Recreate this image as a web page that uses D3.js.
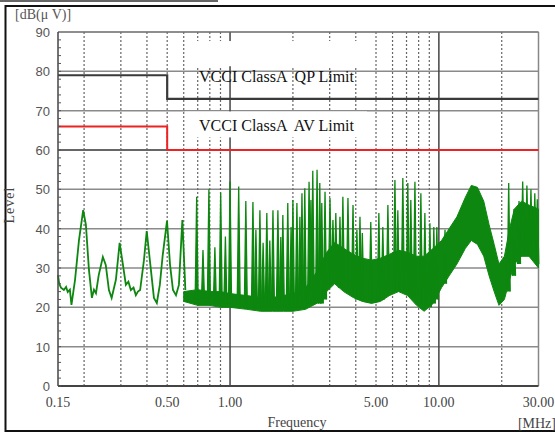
<!DOCTYPE html>
<html>
<head>
<meta charset="utf-8">
<script src="https://cdn.jsdelivr.net/npm/d3@7"></script>
<style>
  body { margin: 0; background: #fff; }
  svg text { white-space: pre; }
</style>
</head>
<body>
<div id="chart"></div>
<script>
// axis ticks
var yTicks = [0, 10, 20, 30, 40, 50, 60, 70, 80, 90];
var xLabels = [0.15, 0.5, 1, 5, 10, 30];
var dashedFreq = [0.2, 0.3, 0.4, 0.5, 0.6, 0.7, 0.8, 0.9, 2, 3, 4, 5, 6, 7, 8, 9, 20];
var solidFreq = [1, 10];

// limit lines (step after)
var limitFreq = [0.15, 0.5, 30];
var qpLimit = [79, 73, 73];
var avLimit = [66, 60, 60];

// measured trace, low band (0.15 - 0.6 MHz)
var lowFreq = [0.150, 0.152, 0.155, 0.160, 0.164, 0.167, 0.171, 0.174, 0.181, 0.189, 0.198, 0.204, 0.211, 0.218, 0.223, 0.228, 0.235, 0.246, 0.254, 0.263, 0.271, 0.284, 0.296, 0.307, 0.317, 0.326, 0.335, 0.345, 0.354, 0.362, 0.371, 0.387, 0.399, 0.413, 0.432, 0.446, 0.461, 0.476, 0.499, 0.516, 0.533, 0.551, 0.569, 0.591, 0.611];
var lowLevel = [28.2, 26.0, 25.0, 24.4, 25.2, 23.9, 24.5, 20.6, 27.0, 37.0, 44.7, 41.0, 29.5, 22.4, 24.5, 23.6, 28.2, 32.8, 30.8, 24.4, 22.4, 27.0, 36.4, 30.8, 25.7, 26.5, 24.4, 25.0, 23.1, 24.0, 24.4, 32.0, 39.4, 32.0, 22.4, 21.1, 25.7, 33.3, 42.0, 30.8, 24.4, 23.1, 25.7, 42.2, 24.4];

// dense noise band (upper / lower envelope)
var bandFreq = [0.6, 0.7, 0.8, 0.9, 1.0, 1.2, 1.4, 1.6, 1.8, 2.0, 2.3, 2.6, 2.9, 3.17, 3.5, 3.89, 4.3, 4.76, 5.25, 5.8, 6.41, 7.08, 7.82, 8.5, 9.4, 10.3, 11.2, 12.2, 13.4, 14.3, 15.3, 16.4, 17.4, 18.4, 19.4, 20.6, 21.8, 23.0, 24.9, 27.0, 30];
var bandTop = [24, 24.5, 24, 24, 23.5, 23, 22.5, 22.5, 23, 23.5, 25, 29, 34, 36.5, 35, 33.5, 32.5, 32, 32.5, 33.5, 34.5, 34, 33, 33, 35, 37, 40, 43, 48, 51, 50.5, 47, 41, 36, 31, 33, 40, 45, 47, 46, 45];
var bandLow = [21.5, 20.5, 20.5, 20, 20, 19.5, 19, 19, 19, 19, 19.5, 21, 24, 26, 24, 22.5, 21.5, 21, 21.5, 23, 24, 23, 20.5, 19, 21, 25, 28, 31, 35, 37, 36, 33, 28, 24, 20.5, 22, 27, 31, 33, 33, 30];

// narrow spikes: frequency, peak level, base level
var spikeFreq = [0.692, 0.742, 0.792, 0.846, 0.902, 0.950, 1.000, 1.100, 1.190, 1.287, 1.330, 1.390, 1.440, 1.500, 1.550, 1.605, 1.695, 1.750, 1.790, 1.890, 1.960, 2.000, 2.090, 2.160, 2.210, 2.280, 2.390, 2.440, 2.490, 2.610, 2.690, 2.750, 2.850, 3.010, 3.110, 3.210, 3.360, 3.470, 3.670, 3.880, 4.050, 4.190, 4.300, 4.720, 5.160, 5.390, 5.700, 6.160, 6.360, 6.720, 7.100, 7.340, 7.680, 8.200, 8.570, 9.060, 9.460, 9.780, 10.70, 21.60, 22.90, 24.20, 25.20, 26.40, 27.60, 28.80, 29.60];
var spikeTop = [48.1, 34.6, 50.0, 35.3, 49.2, 38.0, 52.0, 50.7, 47.0, 46.8, 39.7, 44.7, 36.4, 44.0, 37.0, 44.7, 44.7, 37.9, 43.5, 46.5, 40.4, 47.3, 46.5, 43.0, 49.0, 50.3, 51.9, 47.3, 54.7, 55.0, 51.6, 46.5, 49.4, 47.8, 42.2, 44.0, 43.0, 48.1, 47.8, 46.0, 39.7, 43.0, 38.9, 41.7, 44.0, 40.4, 46.0, 52.4, 44.7, 52.9, 51.6, 47.3, 51.9, 49.0, 44.0, 41.4, 40.4, 40.4, 39.7, 51.6, 45.0, 47.0, 52.0, 51.0, 50.0, 49.0, 47.5];
var spikeBase = [22, 22, 22, 21, 21, 21, 21, 21, 20, 20, 20, 20, 20, 20, 20, 20, 20, 20, 20, 20, 20, 20, 20, 20, 20, 20, 21, 21, 21, 21, 21, 21, 22, 26, 26, 26, 25, 25, 24, 23, 22, 22, 22, 22, 22, 22, 23, 24, 24, 24, 24, 23, 23, 21, 20, 20, 21, 22, 26, 24, 28, 31, 33, 33, 33, 32, 31];

var width = 555, height = 434;
var green = '#0d870f';

var svg = d3.select('#chart').append('svg')
  .attr('width', width)
  .attr('height', height)
  .style('font-family', '"Liberation Serif", "Times New Roman", serif');

var x = d3.scaleLog().domain([0.15, 30]).range([58, 538.5]);
var y = d3.scaleLinear().domain([0, 90]).range([386, 32]);

// outer frame
svg.append('line').attr('x1', 0).attr('x2', 218).attr('y1', 1).attr('y2', 1)
  .attr('stroke', '#333').attr('stroke-width', 1.5);
svg.append('rect').attr('x', 5.5).attr('y', 6).attr('width', 560).attr('height', 425)
  .attr('fill', 'none').attr('stroke', '#111').attr('stroke-width', 2);

// horizontal grid
svg.append('g').selectAll('line').data(yTicks.slice(1)).enter().append('line')
  .attr('x1', x(0.15)).attr('x2', x(30))
  .attr('y1', d => y(d)).attr('y2', d => y(d))
  .attr('stroke', d => d === 60 ? '#333' : '#8a8a8a')
  .attr('stroke-width', 1.5);

// vertical grid
svg.append('g').selectAll('line').data(dashedFreq).enter().append('line')
  .attr('x1', d => x(d)).attr('x2', d => x(d))
  .attr('y1', y(90)).attr('y2', y(0))
  .attr('stroke', '#666').attr('stroke-width', 1.2)
  .attr('stroke-dasharray', '2,2');
svg.append('g').selectAll('line').data(solidFreq).enter().append('line')
  .attr('x1', d => x(d)).attr('x2', d => x(d))
  .attr('y1', y(90)).attr('y2', y(0))
  .attr('stroke', '#444').attr('stroke-width', 1.5);

// right edge of the plot
svg.append('line').attr('x1', x(30)).attr('x2', x(30)).attr('y1', y(90)).attr('y2', y(0))
  .attr('stroke', '#888').attr('stroke-width', 1.5);

// label boxes
var boxes = [
  { text: 'VCCI ClassA  QP Limit', top: 87.7, bottom: 81.3, base: 77.3 },
  { text: 'VCCI ClassA  AV Limit', top: 69.8, bottom: 63.2, base: 64.8 }
];
boxes.forEach(function (b) {
  svg.append('rect')
    .attr('x', 185).attr('width', 182)
    .attr('y', y(b.top)).attr('height', y(b.bottom) - y(b.top))
    .attr('fill', '#fff');
  svg.append('text')
    .attr('x', 199).attr('y', y(b.base))
    .attr('font-size', 16).attr('fill', '#111')
    .text(b.text);
});

// limit lines
var limitLine = d3.line().curve(d3.curveStepAfter)
  .x(d => x(d[0])).y(d => y(d[1]));
svg.append('path')
  .attr('d', limitLine(d3.zip(limitFreq, qpLimit)))
  .attr('fill', 'none').attr('stroke', '#3a3a3a').attr('stroke-width', 2.2);
svg.append('path')
  .attr('d', limitLine(d3.zip(limitFreq, avLimit)))
  .attr('fill', 'none').attr('stroke', '#ee2222').attr('stroke-width', 2);

// measurement trace
var trace = svg.append('g');
trace.append('path')
  .attr('d', d3.area()
    .x(d => x(d[0])).y0(d => y(d[2])).y1(d => y(d[1]))(d3.zip(bandFreq, bandTop, bandLow)))
  .attr('fill', green).attr('stroke', green).attr('stroke-width', 1);
trace.append('path')
  .attr('d', d3.line().x(d => x(d[0])).y(d => y(d[1]))(d3.zip(lowFreq, lowLevel)))
  .attr('fill', 'none').attr('stroke', green).attr('stroke-width', 1.8);
trace.selectAll('path.spike').data(d3.zip(spikeFreq, spikeTop, spikeBase)).enter().append('path')
  .attr('class', 'spike')
  .attr('d', function (d) {
    var cx = x(d[0]);
    return 'M' + (cx - 1.5) + ',' + y(d[2]) + 'L' + cx + ',' + y(d[1]) + 'L' + (cx + 1.5) + ',' + y(d[2]);
  })
  .attr('fill', green).attr('stroke', green).attr('stroke-width', 1.3);

// axes lines
svg.append('line').attr('x1', x(0.15)).attr('x2', x(30)).attr('y1', y(90)).attr('y2', y(90))
  .attr('stroke', '#777').attr('stroke-width', 1.2);
svg.append('line').attr('x1', x(0.15)).attr('x2', x(0.15)).attr('y1', y(90)).attr('y2', y(0))
  .attr('stroke', '#444').attr('stroke-width', 1.5);
svg.append('line').attr('x1', x(0.15)).attr('x2', x(30)).attr('y1', y(0)).attr('y2', y(0))
  .attr('stroke', '#444').attr('stroke-width', 2);

// minor ticks on the level axis
svg.append('g').selectAll('line').data(d3.range(0, 90, 2)).enter().append('line')
  .attr('x1', x(0.15)).attr('x2', x(0.15) + 3)
  .attr('y1', d => y(d)).attr('y2', d => y(d))
  .attr('stroke', '#555').attr('stroke-width', 1);

// tick labels
svg.append('g').selectAll('text').data(yTicks).enter().append('text')
  .attr('x', 50).attr('y', d => y(d) + 5)
  .attr('text-anchor', 'end')
  .attr('font-family', '"Liberation Sans", Arial, sans-serif')
  .attr('font-size', 13).attr('fill', '#555')
  .text(d => d);
svg.append('g').selectAll('text').data(xLabels).enter().append('text')
  .attr('x', d => x(d)).attr('y', 407)
  .attr('text-anchor', 'middle')
  .attr('font-size', 14).attr('fill', '#444')
  .text(d => d.toFixed(2));

// axis titles
svg.append('text').attr('x', 15).attr('y', 19)
  .attr('font-size', 14).attr('fill', '#555')
  .text('[dB(μ V)]');
svg.append('text')
  .attr('transform', 'translate(14,205) rotate(-90)')
  .attr('text-anchor', 'middle')
  .attr('font-size', 14).attr('fill', '#444')
  .style('letter-spacing', '1px')
  .text('Level');
svg.append('text').attr('x', 297).attr('y', 427)
  .attr('text-anchor', 'middle')
  .attr('font-size', 14).attr('fill', '#444')
  .text('Frequency');
svg.append('text').attr('x', 556).attr('y', 428)
  .attr('text-anchor', 'end')
  .attr('font-size', 14).attr('fill', '#444')
  .text('[MHz]');
</script>
</body>
</html>
